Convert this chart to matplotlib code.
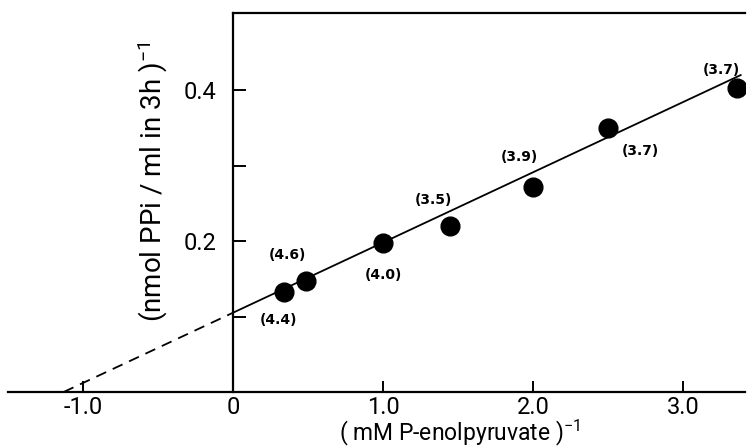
import matplotlib
matplotlib.use("Agg")
import matplotlib.pyplot as plt
import numpy as np

plt.rcParams["mathtext.fontset"] = "custom"
plt.rcParams["mathtext.rm"] = "Roboto"
plt.rcParams["mathtext.it"] = "Roboto:italic"
plt.rcParams["mathtext.bf"] = "Roboto:bold"

# Data
inv_pep = [0.34, 0.49, 1.0, 1.45, 2.0, 2.5, 3.36]
inv_rate = [0.132, 0.147, 0.197, 0.220, 0.272, 0.350, 0.403]
point_labels = ["(4.4)", "(4.6)", "(4.0)", "(3.5)", "(3.9)", "(3.7)", "(3.7)"]
label_offsets = [(-4, -20), (-14, 19), (0, -23), (-12, 19), (-10, 21), (23, -17), (-11, 13)]

fit_intercept = 0.105
fit_slope = 0.093
fit_x_end = 3.39
fit_x_zero = -fit_intercept / fit_slope

xticks = [-1.0, 0.0, 1.0, 2.0, 3.0]
xticklabels = ["-1.0", "0", "1.0", "2.0", "3.0"]
yticks = [0.1, 0.2, 0.3, 0.4]
yticklabels = ["", "0.2", "", "0.4"]

W, H = 751, 448
fig = plt.figure(figsize=(W / 100, H / 100), dpi=100)
left_px, right_px, top_px, bottom_px = 8, 745, 13, 392
ax = fig.add_axes([left_px / W, 1 - bottom_px / H, (right_px - left_px) / W, (bottom_px - top_px) / H])

xmin, xmax = -1.5, (right_px - 233) / 150.0
ax.set_xlim(xmin, xmax)
ax.set_ylim(0, 0.502)

# fitted line: solid over data range, dashed extrapolation
xs = np.array([0.0, fit_x_end])
ax.plot(xs, fit_intercept + fit_slope * xs, color="black", lw=1.3, solid_capstyle="butt")
xd = np.array([fit_x_zero, 0.0])
ax.plot(xd, fit_intercept + fit_slope * xd, color="black", lw=1.3, ls=(0, (6, 4)))

ax.plot(inv_pep, inv_rate, "o", color="black", ms=13.5, zorder=5)
for x, y, t, off in zip(inv_pep, inv_rate, point_labels, label_offsets):
    ax.annotate(t, (x, y), xytext=off, textcoords="offset points", ha="center", va="center",
                fontsize=10, fontweight="bold", family="DejaVu Sans")

ax.spines["right"].set_visible(False)
ax.spines["left"].set_position(("data", 0))
ax.spines["top"].set_bounds(0, xmax)
for s in ["left", "top", "bottom"]:
    ax.spines[s].set_linewidth(1.6)

ax.set_xticks(xticks)
ax.set_xticklabels(xticklabels)
ax.set_yticks(yticks)
ax.set_yticklabels(yticklabels)
ax.tick_params(axis="x", direction="in", length=8, width=1.4, pad=3)
ax.tick_params(axis="y", direction="in", length=9, width=1.4, pad=12)
for lab in ax.get_xticklabels() + ax.get_yticklabels():
    lab.set_family("Roboto")
    lab.set_fontweight("normal")
    lab.set_fontsize(17)

ax.set_xlabel("( mM P-enolpyruvate )$^{\\mathregular{-1}}$", fontsize=16.5, family="Roboto")
ax.xaxis.set_label_coords((460 - left_px) / (right_px - left_px), (bottom_px - 418) / (bottom_px - top_px))
ax.set_ylabel("(nmol PPi / ml in 3h )$^{\\mathregular{-1}}$", fontsize=20, family="Roboto")
ax.yaxis.set_label_coords((170 - left_px) / (right_px - left_px), (bottom_px - 182) / (bottom_px - top_px))

fig.savefig("out.png", dpi=100)
